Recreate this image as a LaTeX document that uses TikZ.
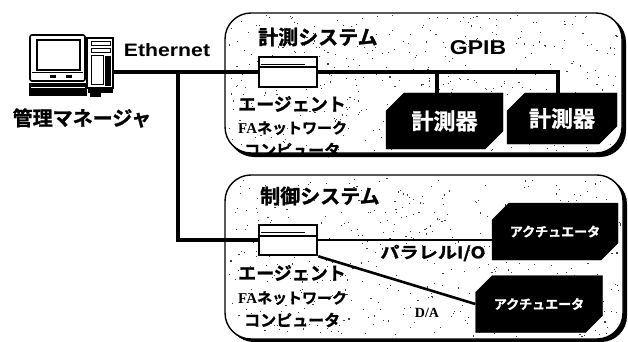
\documentclass[tikz,border=0pt]{standalone}
\usepackage{fontspec}
\usetikzlibrary{shapes.misc}
\setmainfont{Liberation Sans}
\newfontfamily\jp{Noto Sans CJK JP Bold}[FakeBold=1.2]
\newfontfamily\lat{Liberation Sans}
\newfontfamily\latserif{Liberation Serif}
\begin{document}
\begin{tikzpicture}[x=1pt,y=-1pt,
  panel/.style={draw=black,line width=1.4pt,fill=white,rounded corners=26pt},
  shadowpanel/.style={fill=black,rounded corners=26pt},
  agentbox/.style={draw=black,line width=2.6pt,fill=white,minimum width=58pt,minimum height=30pt,inner sep=0pt},
  blackbox/.style={chamfered rectangle,chamfered rectangle corners={north west,south east},
     chamfered rectangle xsep=9pt,chamfered rectangle ysep=9pt,
     fill=black,draw=black,text=white,inner sep=0pt,font=\jp},
  net/.style={line width=4.2pt,line cap=rect},
  bus/.style={line width=3.2pt},
  sig/.style={line width=2.6pt},
  lbl/.style={inner sep=0pt,font=\jp},
]
\useasboundingbox (0,0) rectangle (628,342);

% ---------- panels with drop shadow ----------
\fill[shadowpanel] (228,16) rectangle (626,157);
\draw[panel] (225,13) rectangle (622,153);
\fill[shadowpanel] (228,178) rectangle (627,342);
\draw[panel] (225,175) rectangle (623,339);

% halftone speckle inside the panels
\pgfmathsetseed{11}
\begin{scope}
  \clip[rounded corners=26pt] (227,15) rectangle (620,151);
  \foreach \i in {1,...,420}{
    \pgfmathsetmacro\px{227+393*rnd}\pgfmathsetmacro\py{15+136*rnd}
    \fill[black!75] (\px,\py) rectangle ++(1.1,1.1);}
\end{scope}
\begin{scope}
  \clip[rounded corners=26pt] (227,177) rectangle (621,337);
  \foreach \i in {1,...,480}{
    \pgfmathsetmacro\px{227+394*rnd}\pgfmathsetmacro\py{177+160*rnd}
    \fill[black!75] (\px,\py) rectangle ++(1.1,1.1);}
\end{scope}

% ---------- management workstation ----------
% monitor
\draw[line width=1.6pt,rounded corners=2pt] (30,35) rectangle (85,81);
\draw[line width=1.4pt] (37,40) rectangle (80,70);
\draw[line width=1pt] (32,73) -- (83,73);
\fill (50,75) rectangle (56,78);
\fill (66,75) rectangle (72,78);
% keyboard
\fill (29,83) rectangle (87,96);
\draw[white,line width=0.8pt] (31,87) -- (85,87);
% tower
\node[draw=black,line width=1.6pt,minimum width=26pt,minimum height=50pt,inner sep=0pt] (pc) at (100,63) {};
\draw[line width=1pt] (91,42) rectangle (110,46);
\draw[line width=1pt] (91,49) rectangle (110,53);
\draw[line width=1pt] (91,56) rectangle (103,85);
\fill (105,56) rectangle (111,86);
\fill (88,88) rectangle (113,93);
\fill (90,93) rectangle (101,97);

\node[inner sep=0pt,font=\lat\bfseries\fontsize{18}{18}\selectfont,xscale=1.18] (eth) at (167,50) {Ethernet};
\node[lbl,font=\jp\fontsize{20}{20}\selectfont] (mgr) at (82,118) {管理マネージャ};

% ---------- measurement system ----------
\node[lbl,font=\jp\fontsize{20}{20}\selectfont,anchor=west] (meas) at (258,37) {計測システム};
\node[inner sep=0pt,font=\lat\bfseries\fontsize{20}{20}\selectfont,xscale=1.15] (gpib) at (478,48) {GPIB};
\node[agentbox] (agent1) at (288,72) {};
\draw[line width=1.8pt] (agent1.west) ++(0,-5) -- ++(58,0);
\draw[line width=0.7pt] (agent1.west) ++(3,-8) -- ++(44,0);
\node[lbl,font=\jp\fontsize{18}{18}\selectfont,anchor=west] (ag1a) at (238,104) {エージェント};
\node[lbl,font=\jp\fontsize{15}{15}\selectfont,anchor=west] (ag1b) at (238,128) {{\latserif\bfseries FA}ネットワーク};
\node[lbl,font=\jp\fontsize{16}{16}\selectfont,anchor=west] (ag1c) at (244,150) {コンピュータ};

\node[blackbox,minimum width=117pt,minimum height=56pt,font=\jp\fontsize{22}{22}\selectfont] (m1) at (444.5,121) {計測器};
\node[blackbox,minimum width=110pt,minimum height=51pt,font=\jp\fontsize{22}{22}\selectfont] (m2) at (562,118.5) {計測器};

% ---------- control system ----------
\node[lbl,font=\jp\fontsize{20}{20}\selectfont,anchor=west] (ctrl) at (260,196) {制御システム};
\node[agentbox] (agent2) at (288,240) {};
\draw[line width=1.8pt] (agent2.west) ++(0,-4) -- ++(58,0);
\draw[line width=0.7pt] (agent2.west) ++(3,-8) -- ++(44,0);
\node[lbl,font=\jp\fontsize{18}{18}\selectfont,anchor=west] (ag2a) at (238,273) {エージェント};
\node[lbl,font=\jp\fontsize{15}{15}\selectfont,anchor=west] (ag2b) at (238,298) {{\latserif\bfseries FA}ネットワーク};
\node[lbl,font=\jp\fontsize{16}{16}\selectfont,anchor=west] (ag2c) at (244,320) {コンピュータ};

\node[blackbox,minimum width=126pt,minimum height=57pt,chamfered rectangle xsep=11pt,chamfered rectangle ysep=11pt,font=\jp\fontsize{13}{13}\selectfont] (a1) at (555,231.5) {アクチュエータ};
\node[blackbox,minimum width=127pt,minimum height=57pt,chamfered rectangle xsep=11pt,chamfered rectangle ysep=11pt,font=\jp\fontsize{13}{13}\selectfont] (a2) at (539,304) {アクチュエータ};

\node[lbl,font=\jp\fontsize{16}{16}\selectfont,xscale=1.2,anchor=west] (pio) at (380,253) {パラレルI/O};
\node[inner sep=0pt,font=\latserif\bfseries\fontsize{14}{14}\selectfont] (da) at (427,313) {D/A};

% ---------- network and signal lines ----------
\coordinate (j) at (178,72);
\coordinate (g1) at (437,72);
\coordinate (g2) at (558,72);
\draw[net] (agent1.west -| pc.east) -- (agent1.west);
\draw[net] (j) |- (agent2.west);
\draw[bus] (agent1.east) -- (g2) -- (g2 |- m2.north);
\draw[bus] (g1) -- (g1 |- m1.north);
\draw[sig] (agent2.east) -- (agent2.east -| a1.west);
\draw[sig] (agent2.south east) -- (a2.west);
\end{tikzpicture}
\end{document}
